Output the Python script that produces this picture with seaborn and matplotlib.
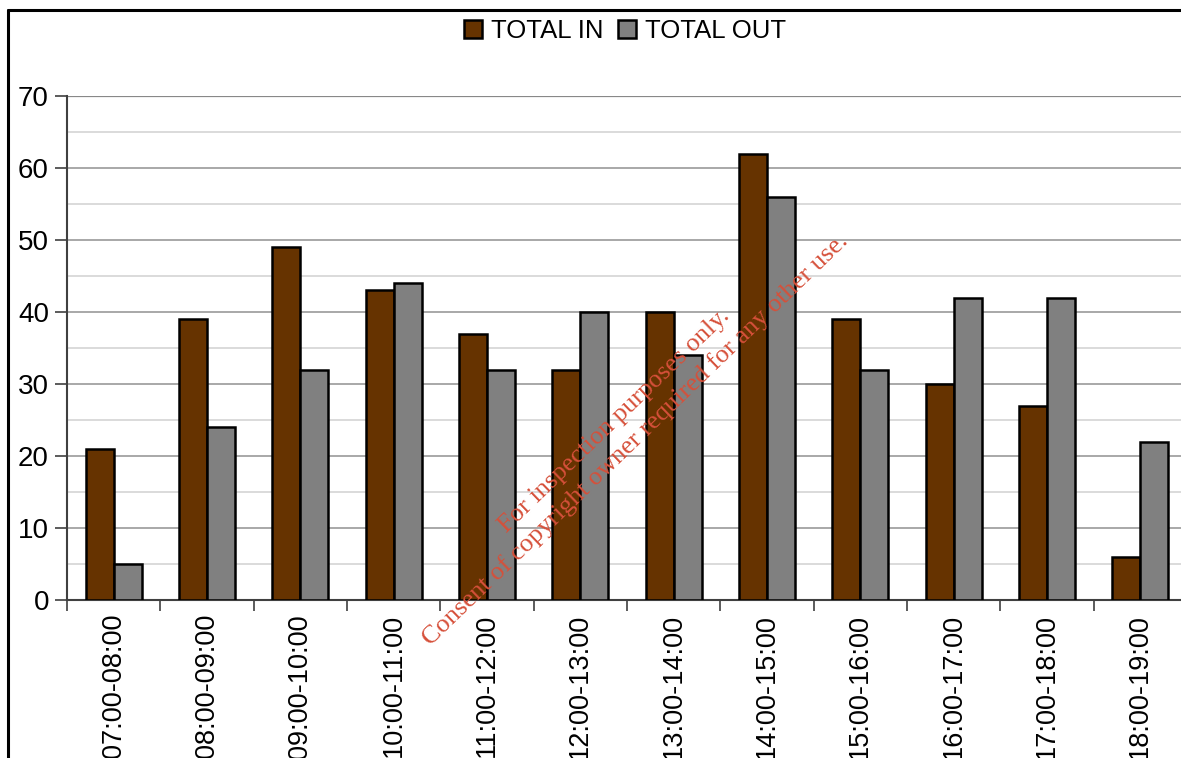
import matplotlib
matplotlib.use("Agg")
import matplotlib.pyplot as plt
from matplotlib.lines import Line2D
from matplotlib.ticker import MultipleLocator, FixedLocator
import pandas as pd
import seaborn as sns

periods = ["07:00-08:00", "08:00-09:00", "09:00-10:00", "10:00-11:00",
           "11:00-12:00", "12:00-13:00", "13:00-14:00", "14:00-15:00",
           "15:00-16:00", "16:00-17:00", "17:00-18:00", "18:00-19:00"]
total_in = [21, 39, 49, 43, 37, 32, 40, 62, 39, 30, 27, 6]
total_out = [5, 24, 32, 44, 32, 40, 34, 56, 32, 42, 42, 22]
series = ["TOTAL IN", "TOTAL OUT"]
colors = ["#663300", "#808080"]

df = pd.DataFrame({
    "period": periods * 2,
    "count": total_in + total_out,
    "series": [series[0]] * len(periods) + [series[1]] * len(periods),
})

sns.set_theme(style="white")
plt.rcParams["font.family"] = ["Liberation Sans", "DejaVu Sans"]
plt.rcParams["text.color"] = "black"

W, H = 1181, 758
fig = plt.figure(figsize=(W / 100, H / 100), dpi=100)
ax = fig.add_axes([67 / W, 1 - 600 / H, (1187 - 67) / W, (600 - 96) / H])

sns.barplot(data=df, x="period", y="count", hue="series", order=periods,
            hue_order=series, palette=colors, width=0.6, dodge=True,
            edgecolor="black", linewidth=1.8, saturation=1, ax=ax,
            legend=True, zorder=3)

ax.set_ylim(0, 70)
ax.set_xlim(-0.5, len(periods) - 0.5)
ax.set_xlabel("")
ax.set_ylabel("")

# grid: darker lines at every 10, lighter at every 5
ax.yaxis.set_major_locator(MultipleLocator(10))
ax.yaxis.set_minor_locator(MultipleLocator(5))
ax.grid(axis="y", which="major", color="#9a9a9a", linewidth=1.2, zorder=0)
ax.grid(axis="y", which="minor", color="#d4d4d4", linewidth=1.2, zorder=0)
ax.grid(axis="x", which="both", visible=False)
ax.set_axisbelow(True)

# x: tick marks at group boundaries, labels at group centres
ax.xaxis.set_major_locator(FixedLocator([i - 0.5 for i in range(len(periods) + 1)]))
ax.xaxis.set_minor_locator(FixedLocator(list(range(len(periods)))))
ax.set_xticklabels([], minor=False)
ax.set_xticklabels(periods, minor=True, rotation=90, fontsize=19.5)
ax.tick_params(axis="x", which="major", direction="out", length=8, width=1.2,
               color="#404040", bottom=True)
ax.tick_params(axis="x", which="minor", length=0, pad=10, labelcolor="black")
ax.tick_params(axis="y", which="major", direction="out", length=9, width=1.2,
               color="#404040", left=True, labelsize=20, labelcolor="black", pad=4)
ax.tick_params(axis="y", which="minor", length=0)

for side in ["top", "right"]:
    ax.spines[side].set_visible(False)
ax.spines["left"].set_color("#404040")
ax.spines["left"].set_linewidth(1.5)
ax.spines["bottom"].set_color("#404040")
ax.spines["bottom"].set_linewidth(1.5)

# top gridline at 70 a bit darker
ax.axhline(70, color="#888888", linewidth=1.6, zorder=1)

# legend across the top
handles, labels = ax.get_legend_handles_labels()
ax.get_legend().remove()
leg = fig.legend(handles, labels, loc="center", bbox_to_anchor=(625 / W, 1 - 31 / H),
                 ncol=2, frameon=False, fontsize=18.5, handlelength=0.7,
                 handleheight=0.7, handletextpad=0.35, columnspacing=0.55,
                 borderaxespad=0)
for t in leg.get_texts():
    t.set_color("black")

# outer frame (left and top edges)
fig.add_artist(Line2D([8 / W, 8 / W], [0, 1 - 10 / H], transform=fig.transFigure,
                      color="black", linewidth=2.2))
fig.add_artist(Line2D([8 / W, 1.0], [1 - 10 / H, 1 - 10 / H],
                      transform=fig.transFigure, color="black", linewidth=2.2))

# diagonal notice
notice_kw = dict(rotation=44, rotation_mode="anchor", ha="center", va="center",
                 color="#d6503a", fontsize=19, family=["Liberation Serif", "DejaVu Serif"])
fig.text(614 / W, 1 - 421 / H, "For inspection purposes only.", **notice_kw)
fig.text(635 / W, 1 - 440 / H, "Consent of copyright owner required for any other use.",
         **notice_kw)

fig.savefig("out.png", dpi=100)
